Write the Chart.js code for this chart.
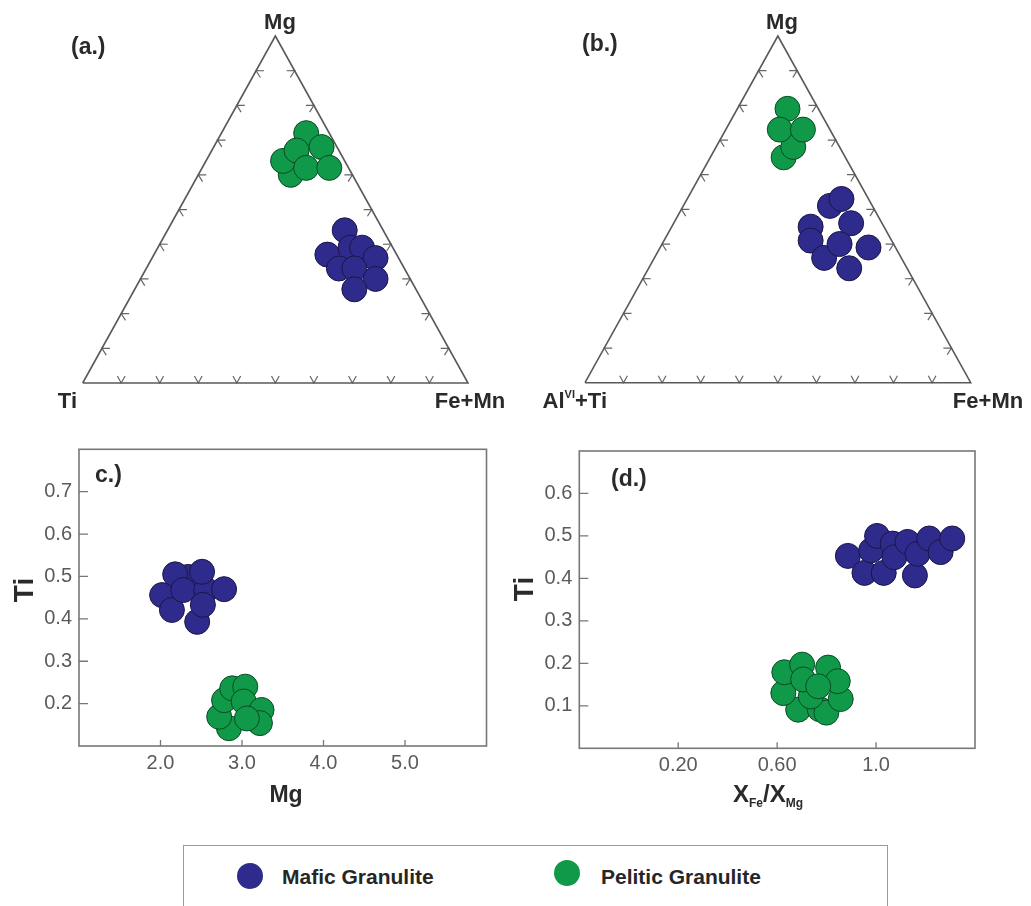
<!DOCTYPE html>
<html>
<head>
<meta charset="utf-8">
<script src="https://cdn.jsdelivr.net/npm/chart.js@4.4.1/dist/chart.umd.min.js"></script>
<style>
  body { margin: 0; background: #fff; width: 1031px; height: 906px; overflow: hidden; position: relative;
         font-family: "Liberation Sans", Arial, sans-serif; }
  canvas { position: absolute; }
  #legend { position: absolute; left: 183px; top: 845px; width: 705px; height: 80px;
            border: 1.5px solid #9a9a9a; box-sizing: border-box; }
  #legend .dot { position: absolute; width: 26px; height: 26px; border-radius: 50%; }
  #legend .lbl { position: absolute; top: 18px; height: 26px; line-height: 26px;
                 font-size: 21px; font-weight: bold; color: #262626; white-space: nowrap; }
</style>
</head>
<body>
<canvas id="chartA" width="515" height="420" style="left:0;top:0"></canvas>
<canvas id="chartB" width="516" height="420" style="left:515px;top:0"></canvas>
<canvas id="chartC" width="500" height="390" style="left:0;top:430px"></canvas>
<canvas id="chartD" width="531" height="390" style="left:500px;top:430px"></canvas>
<div id="legend">
  <span class="dot" style="left:53px;top:17px;background:#2f2b8c"></span>
  <span class="lbl" style="left:98px">Mafic Granulite</span>
  <span class="dot" style="left:370px;top:14px;background:#11994a"></span>
  <span class="lbl" style="left:417px">Pelitic Granulite</span>
</div>
<script>
// ---- data ----
// ternary (a): [Mg, Fe+Mn, Ti]
const maficA = [
  [0.44, 0.46, 0.10], [0.37, 0.45, 0.18], [0.39, 0.50, 0.11], [0.33, 0.50, 0.17], [0.39, 0.53, 0.08],
  [0.36, 0.58, 0.06], [0.33, 0.54, 0.13], [0.30, 0.61, 0.09], [0.27, 0.57, 0.16]
];
const peliticA = [
  [0.60, 0.24, 0.16], [0.64, 0.20, 0.16], [0.72, 0.22, 0.06], [0.67, 0.22, 0.11],
  [0.68, 0.28, 0.04], [0.62, 0.27, 0.11], [0.62, 0.33, 0.05]
];
// ternary (b): [Mg, Fe+Mn, AlVI+Ti]
const maficB = [
  [0.51, 0.38, 0.11], [0.53, 0.40, 0.07], [0.45, 0.36, 0.19], [0.41, 0.38, 0.21], [0.46, 0.46, 0.08],
  [0.36, 0.44, 0.20], [0.40, 0.46, 0.14], [0.39, 0.54, 0.07], [0.33, 0.52, 0.15]
];
const peliticB = [
  [0.65, 0.19, 0.16], [0.68, 0.20, 0.12], [0.79, 0.13, 0.08], [0.73, 0.14, 0.13], [0.73, 0.20, 0.07]
];
// (c): [Mg, Ti]
const maficC = [
  [2.02, 0.456], [2.14, 0.421], [2.34, 0.499], [2.18, 0.505], [2.28, 0.468], [2.45, 0.393],
  [2.56, 0.468], [2.52, 0.433], [2.51, 0.511], [2.78, 0.470]
];
const peliticC = [
  [2.84, 0.142], [2.72, 0.169], [2.78, 0.208], [2.88, 0.236], [3.04, 0.240], [3.02, 0.205],
  [3.24, 0.185], [3.22, 0.154], [3.06, 0.165]
];
// (d): [XFe/XMg, Ti]
const maficD = [
  [0.886, 0.453], [0.953, 0.413], [0.980, 0.466], [1.031, 0.413], [1.004, 0.500], [1.067, 0.482],
  [1.074, 0.450], [1.127, 0.486], [1.157, 0.407], [1.168, 0.458], [1.215, 0.494], [1.261, 0.462],
  [1.308, 0.494]
];
const peliticD = [
  [0.685, 0.091], [0.772, 0.092], [0.799, 0.084], [0.625, 0.130], [0.857, 0.116], [0.736, 0.122],
  [0.629, 0.179], [0.701, 0.197], [0.806, 0.190], [0.705, 0.162], [0.845, 0.158], [0.766, 0.146]
];
// ticks
const ternaryTicks = [0.1, 0.2, 0.3, 0.4, 0.5, 0.6, 0.7, 0.8, 0.9];
const cTicksX = [2, 3, 4, 5];
const cLabelsX = ['2.0', '3.0', '4.0', '5.0'];
const cTicksY = [0.2, 0.3, 0.4, 0.5, 0.6, 0.7];
const dTicksX = [0.2, 0.6, 1.0];
const dLabelsX = ['0.20', '0.60', '1.0'];
const dTicksY = [0.1, 0.2, 0.3, 0.4, 0.5, 0.6];

// ---- styles ----
const FONT = '"Liberation Sans", Arial, sans-serif';
const BLUE = '#2f2b8c', BLUE_EDGE = '#191645';
const GREEN = '#11994a', GREEN_EDGE = '#0a4a22';
const LINE = '#5a5a5a';

const pointStyle = (fill, edge) => ({
  backgroundColor: fill, borderColor: edge, borderWidth: 1, pointRadius: 12.5, clip: false
});

// ternary -> cartesian (Ti / AlVI+Ti at left, Fe+Mn at right, Mg on top)
const toXY = t => {
  const s = t[0] + t[1] + t[2];
  return { x: (t[1] + t[0] / 2) / s, y: t[0] / s };
};
const toPt = p => ({ x: p[0], y: p[1] });

// text with sub / superscripts
function drawRich(ctx, item) {
  const segs = typeof item.text === 'string' ? [{ t: item.text }] : item.text;
  const size = item.size;
  ctx.save();
  ctx.translate(item.x, item.y);
  if (item.rot) ctx.rotate(item.rot);
  ctx.fillStyle = item.color || '#2a2a2a';
  ctx.textBaseline = 'alphabetic';
  ctx.textAlign = 'left';
  const parts = segs.map(s => {
    const sz = s.sub || s.sup ? Math.round(size * 0.48) : size;
    ctx.font = `bold ${sz}px ${FONT}`;
    return { t: s.t, sz, w: ctx.measureText(s.t).width, dy: s.sub ? size * 0.2 : s.sup ? -size * 0.45 : 0 };
  });
  const total = parts.reduce((a, p) => a + p.w, 0);
  let cx = item.align === 'center' ? -total / 2 : item.align === 'right' ? -total : 0;
  parts.forEach(p => {
    ctx.font = `bold ${p.sz}px ${FONT}`;
    ctx.fillText(p.t, cx, p.dy);
    cx += p.w;
  });
  ctx.restore();
}

const textPlugin = {
  id: 'texts',
  afterDraw(chart, args, opts) {
    (opts.items || []).forEach(it => drawRich(chart.ctx, it));
  }
};

// chevron ticks on the triangle sides
const ternaryPlugin = {
  id: 'ternaryTicks',
  beforeDatasetsDraw(chart) {
    const { ctx, scales: { x, y } } = chart;
    const V = [[0, 0], [1, 0], [0.5, 1]].map(v => [x.getPixelForValue(v[0]), y.getPixelForValue(v[1])]);
    const cen = [(V[0][0] + V[1][0] + V[2][0]) / 3, (V[0][1] + V[1][1] + V[2][1]) / 3];
    ctx.save();
    ctx.strokeStyle = '#666';
    ctx.lineWidth = 1.2;
    [[0, 1], [1, 2], [2, 0]].forEach(([a, b]) => {
      const P = V[a], Q = V[b];
      const len = Math.hypot(Q[0] - P[0], Q[1] - P[1]);
      const t = [(Q[0] - P[0]) / len, (Q[1] - P[1]) / len];
      let n = [-t[1], t[0]];
      const mid = [(P[0] + Q[0]) / 2, (P[1] + Q[1]) / 2];
      if ((cen[0] - mid[0]) * n[0] + (cen[1] - mid[1]) * n[1] < 0) n = [-n[0], -n[1]];
      ternaryTicks.forEach(f => {
        const px = P[0] + (Q[0] - P[0]) * f, py = P[1] + (Q[1] - P[1]) * f;
        const L = 7, s = 0.55;
        ctx.beginPath();
        ctx.moveTo(px + L * (n[0] + s * t[0]), py + L * (n[1] + s * t[1]));
        ctx.lineTo(px, py);
        ctx.lineTo(px + L * (n[0] - s * t[0]), py + L * (n[1] - s * t[1]));
        ctx.stroke();
      });
    });
    ctx.restore();
  }
};

// box frame + inward tick marks
const framePlugin = {
  id: 'frame',
  beforeDatasetsDraw(chart) {
    const { ctx, chartArea: a, scales: { x, y } } = chart;
    ctx.save();
    ctx.strokeStyle = '#777';
    ctx.lineWidth = 1.6;
    ctx.strokeRect(a.left, a.top, a.right - a.left, a.bottom - a.top);
    ctx.lineWidth = 1.3;
    ctx.beginPath();
    x.ticks.forEach(tk => {
      const px = x.getPixelForValue(tk.value);
      ctx.moveTo(px, a.bottom); ctx.lineTo(px, a.bottom - 6);
    });
    y.ticks.forEach(tk => {
      const py = y.getPixelForValue(tk.value);
      ctx.moveTo(a.left, py); ctx.lineTo(a.left + 9, py);
    });
    ctx.stroke();
    ctx.restore();
  }
};

function ternaryChart(id, pad, mafic, pelitic, texts) {
  return new Chart(document.getElementById(id), {
    type: 'scatter',
    data: {
      datasets: [
        { label: 'Mafic Granulite', data: mafic.map(toXY), ...pointStyle(BLUE, BLUE_EDGE) },
        { label: 'Pelitic Granulite', data: pelitic.map(toXY), ...pointStyle(GREEN, GREEN_EDGE) },
        {
          data: [{ x: 0, y: 0 }, { x: 1, y: 0 }, { x: 0.5, y: 1 }, { x: 0, y: 0 }],
          showLine: true, pointRadius: 0, borderColor: LINE, borderWidth: 1.6, clip: false, order: 5
        }
      ]
    },
    options: {
      responsive: false, animation: false, events: [],
      layout: { padding: pad },
      scales: {
        x: { type: 'linear', min: 0, max: 1, display: false },
        y: { type: 'linear', min: 0, max: 1, display: false }
      },
      plugins: { legend: { display: false }, tooltip: { enabled: false }, texts: { items: texts } }
    },
    plugins: [ternaryPlugin, textPlugin]
  });
}

function xyChart(id, o) {
  const tickFont = { family: FONT, size: 20 };
  return new Chart(document.getElementById(id), {
    type: 'scatter',
    data: {
      datasets: [
        { label: 'Mafic Granulite', data: o.mafic.map(toPt), ...pointStyle(BLUE, BLUE_EDGE) },
        { label: 'Pelitic Granulite', data: o.pelitic.map(toPt), ...pointStyle(GREEN, GREEN_EDGE) }
      ]
    },
    options: {
      responsive: false, animation: false, events: [],
      layout: { padding: o.pad },
      scales: {
        x: {
          type: 'linear', min: o.xMin, max: o.xMax,
          grid: { display: false, drawTicks: false }, border: { display: false },
          afterBuildTicks: s => { s.ticks = o.xTicks.map(v => ({ value: v })); },
          afterFit: s => { s.height = o.xHeight; },
          ticks: { font: tickFont, color: '#5a5a5a', padding: 5, maxRotation: 0,
                   callback: (v, i) => o.xLabels[i] }
        },
        y: {
          type: 'linear', min: o.yMin, max: o.yMax,
          grid: { display: false, drawTicks: false }, border: { display: false },
          afterBuildTicks: s => { s.ticks = o.yTicks.map(v => ({ value: v })); },
          afterFit: s => { s.width = o.yWidth; },
          ticks: { font: tickFont, color: '#5a5a5a', padding: 7, callback: v => v.toFixed(1) }
        }
      },
      plugins: { legend: { display: false }, tooltip: { enabled: false }, texts: { items: o.texts } }
    },
    plugins: [framePlugin, textPlugin]
  });
}

// (a.)
ternaryChart('chartA', { left: 82.7, right: 47, top: 36, bottom: 37 }, maficA, peliticA, [
  { text: '(a.)', x: 71, y: 54, size: 23, align: 'left' },
  { text: 'Mg', x: 280, y: 29, size: 22, align: 'center' },
  { text: 'Ti', x: 77, y: 408, size: 22, align: 'right' },
  { text: 'Fe+Mn', x: 470, y: 408, size: 22, align: 'center' }
]);

// (b.)
ternaryChart('chartB', { left: 70, right: 60.3, top: 36, bottom: 37.3 }, maficB, peliticB, [
  { text: '(b.)', x: 67, y: 51, size: 23, align: 'left' },
  { text: 'Mg', x: 267, y: 29, size: 22, align: 'center' },
  { text: [{ t: 'Al' }, { t: 'VI', sup: true }, { t: '+Ti' }], x: 92, y: 408, size: 22, align: 'right' },
  { text: 'Fe+Mn', x: 473, y: 408, size: 22, align: 'center' }
]);

// c.)
xyChart('chartC', {
  mafic: maficC, pelitic: peliticC,
  xMin: 1, xMax: 6, xTicks: cTicksX, xLabels: cLabelsX,
  yMin: 0.1, yMax: 0.8, yTicks: cTicksY,
  pad: { top: 19.3, right: 6, left: 0, bottom: 0 }, yWidth: 79, xHeight: 74,
  texts: [
    { text: 'c.)', x: 95, y: 52, size: 23, align: 'left' },
    { text: 'Ti', x: 33, y: 160, size: 28, align: 'center', rot: -Math.PI / 2 },
    { text: 'Mg', x: 286, y: 372, size: 23, align: 'center' }
  ]
});

// (d.)
xyChart('chartD', {
  mafic: maficD, pelitic: peliticD,
  xMin: -0.2, xMax: 1.4, xTicks: dTicksX, xLabels: dLabelsX,
  yMin: 0, yMax: 0.7, yTicks: dTicksY,
  pad: { top: 21, right: 56, left: 0, bottom: 0 }, yWidth: 79.3, xHeight: 71.7,
  texts: [
    { text: '(d.)', x: 111, y: 56, size: 23, align: 'left' },
    { text: 'Ti', x: 33, y: 159, size: 28, align: 'center', rot: -Math.PI / 2 },
    { text: [{ t: 'X' }, { t: 'Fe', sub: true }, { t: '/X' }, { t: 'Mg', sub: true }],
      x: 268, y: 372, size: 24, align: 'center' }
  ]
});
</script>
</body>
</html>
